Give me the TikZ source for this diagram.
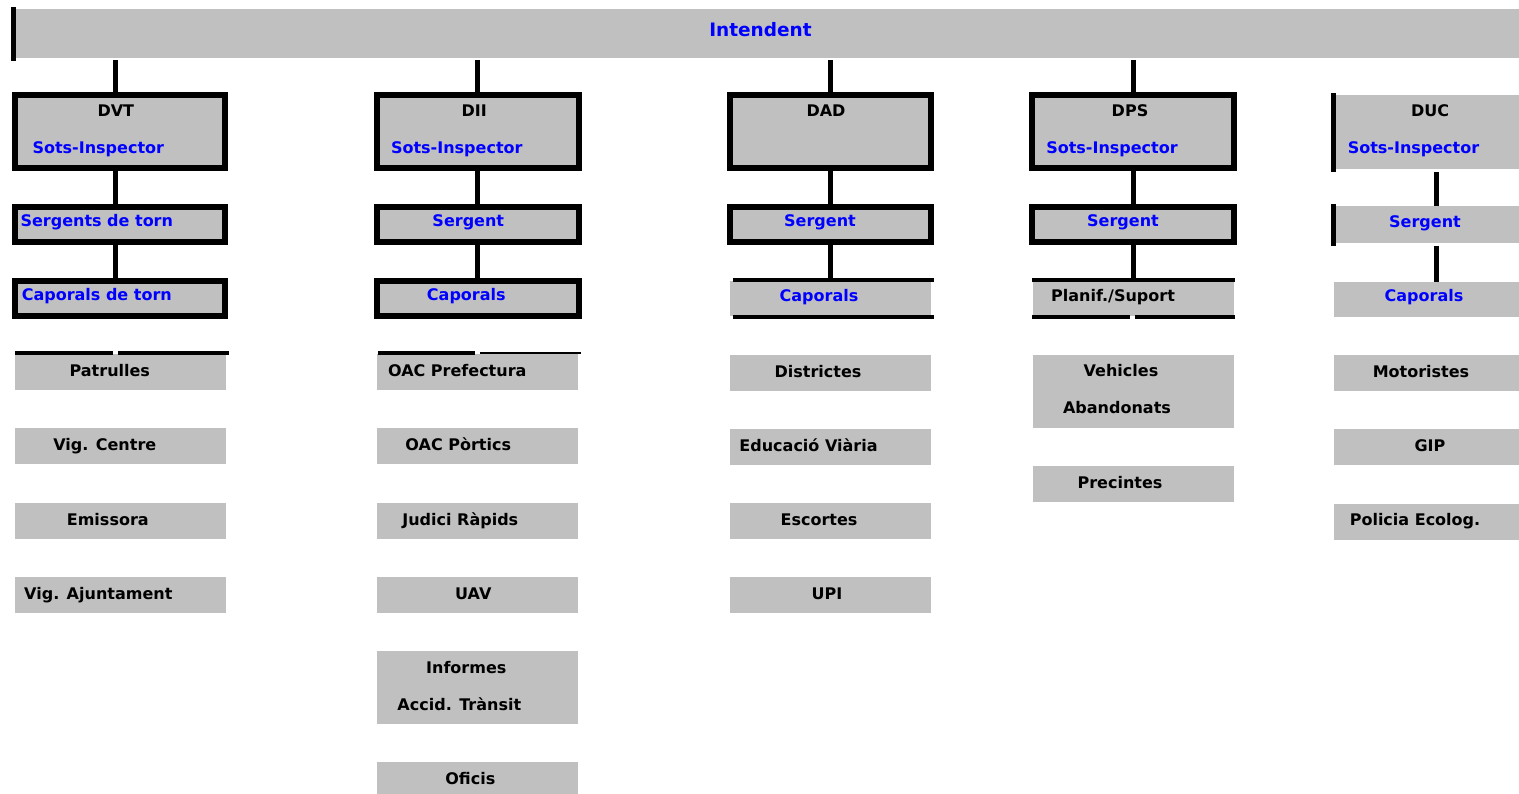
\documentclass[tikz,border=0pt]{standalone}
\usepackage{fontspec}
\setmainfont{DejaVu Sans}
\usetikzlibrary{positioning}
\definecolor{boxgray}{HTML}{C0C0C0}
\definecolor{roleblue}{HTML}{0000FF}
\tikzstyle{chief}=[rectangle,draw=black,line width=6pt,fill=boxgray,
minimum width=201.5pt,minimum height=72.7pt,inner sep=0pt]
\tikzstyle{widechief}=[chief,minimum width=210pt]
\tikzstyle{rank}=[chief,minimum height=35pt]
\tikzstyle{widerank}=[widechief,minimum height=35pt]
\tikzstyle{unit}=[rectangle,fill=boxgray,minimum width=201pt,minimum height=36pt,inner sep=0pt]
\tikzstyle{wideunit}=[unit,minimum width=211pt]
\tikzstyle{narrowunit}=[unit,minimum width=185pt]
\tikzstyle{tallunit}=[unit,minimum height=73pt]
\tikzstyle{link}=[line width=5pt]
\tikzstyle{rule}=[line width=4pt]
\tikzstyle{thinrule}=[line width=2pt]
\tikzstyle{every label}=[text height=11.7pt,text depth=0pt,inner sep=0pt]
\tikzstyle{role}=[text=roleblue]
\tikzstyle{tag}=[yshift=1.5pt]
\tikzstyle{boss text}=[role,font=\fontsize{18.5}{22}\selectfont\bfseries,text height=13.5pt]

\begin{document}
\begin{tikzpicture}[x=1pt,y=-1pt,node distance=37.8pt,font=\fontsize{16}{19}\selectfont\bfseries]
            \useasboundingbox (0,0) rectangle (1519,793);

            % INTENDENT
            \node[unit,minimum width=1503pt,minimum height=48.5pt,label={[boss text,xshift=-7pt,yshift=3.25pt]center:Intendent}] (boss) at (767.5,33.25) {};
            \draw[link] ([xshift=-2.5pt,yshift=2pt]boss.north west) -- ([xshift=-2.5pt,yshift=-3.5pt]boss.south west);

            % DVT PART
            \node[widechief,label={[xshift=-4.5pt,yshift=20.7pt]center:DVT},
                label={[role,xshift=-22pt,yshift=-16.3pt]center:Sots-Inspector}] (dvt) at (120.3,131.7) {};
            \node[widerank,below=33pt of dvt,label={[role,xshift=-23.5pt,yshift=3.5pt]center:Sergents de torn}] (sgt1) {};
            \node[widerank,below=33pt of sgt1,label={[role,xshift=-23.5pt,yshift=3.5pt]center:Caporals de torn}] (cap1) {};
            \node[wideunit,below=35pt of cap1,label={[tag,xshift=-10.5pt]center:Patrulles}] (patr) {};
            \node[wideunit,below=of patr,label={[tag,xshift=-15.5pt]center:Vig. Centre}] (vigc) {};
            \node[wideunit,below=of vigc,label={[tag,xshift=-12.5pt]center:Emissora}] (emis) {};
            \node[wideunit,below=of emis,label={[tag,xshift=-22pt]center:Vig. Ajuntament}] (viga) {};

            \coordinate (c1) at ([xshift=-4.8pt]dvt.north);
            \path[link] (c1) edge[shorten >=2.5pt] (c1 |- boss.south);
            \path[link] ([xshift=-4.8pt]dvt.south) edge ([xshift=-4.8pt]sgt1.north);
            \path[link] ([xshift=-4.8pt]sgt1.south) edge ([xshift=-4.8pt]cap1.north);
            \draw[rule] ([yshift=1pt]patr.north west) -- ([xshift=-7.5pt,yshift=1pt]patr.north);
            \draw[rule] ([xshift=-2.5pt,yshift=1pt]patr.north) -- ([xshift=3pt,yshift=1pt]patr.north east);

            % DII PART
            \node[chief,label={[xshift=-3.5pt,yshift=20.7pt]center:DII},
                label={[role,xshift=-21pt,yshift=-16.3pt]center:Sots-Inspector}] (dii) at (477.8,131.7) {};
            \node[rank,below=33pt of dii,label={[role,xshift=-9.5pt,yshift=3.5pt]center:Sergent}] (sgt2) {};
            \node[rank,below=33pt of sgt2,label={[role,xshift=-11.5pt,yshift=3.5pt]center:Caporals}] (cap2) {};
            \node[unit,below=35pt of cap2,label={[tag,xshift=-20.5pt]center:OAC Prefectura}] (oacpref) {};
            \node[unit,below=of oacpref,label={[tag,xshift=-19.5pt]center:OAC Pòrtics}] (oacport) {};
            \node[unit,below=of oacport,label={[tag,xshift=-17.5pt]center:Judici Ràpids}] (judici) {};
            \node[unit,below=of judici,label={[tag,xshift=-4.5pt]center:UAV}] (uav) {};
            \node[tallunit,below=of uav,label={[xshift=-11.5pt,yshift=19.7pt]center:Informes},
                label={[xshift=-18.5pt,yshift=-17.3pt]center:Accid. Trànsit}] (inform) {};
            \node[unit,below=of inform,label={[tag,xshift=-7.5pt]center:Oficis}] (oficis) {};

            \path[link] (dii.north) edge[shorten >=2.5pt] (dii.north |- boss.south);
            \path[link] (dii) edge (sgt2);
            \path[link] (sgt2) edge (cap2);
            \draw[rule] ([xshift=1pt,yshift=1pt]oacpref.north west) -- ([xshift=-3pt,yshift=1pt]oacpref.north);
            \draw[thinrule] ([xshift=2.5pt,yshift=1pt]oacpref.north) -- ([xshift=2pt,yshift=1pt]oacpref.north east);

            % DAD PART
            \node[chief,label={[xshift=-4.5pt,yshift=20.7pt]center:DAD}] (dad) at (830.5,131.7) {};
            \node[rank,below=33pt of dad,label={[role,xshift=-10.5pt,yshift=3.5pt]center:Sergent}] (sgt3) {};
            \node[unit,minimum height=35pt,below=36pt of sgt3,label={[role,xshift=-11.5pt,yshift=3.5pt]center:Caporals}] (cap3) {};
            \node[unit,below=38pt of cap3,label={[tag,xshift=-12.5pt]center:Districtes}] (distr) {};
            \node[unit,below=of distr,label={[tag,xshift=-22pt]center:Educació Viària}] (educ) {};
            \node[unit,below=of educ,label={[tag,xshift=-11.5pt]center:Escortes}] (escort) {};
            \node[unit,below=of escort,label={[tag,xshift=-3.5pt]center:UPI}] (upi) {};

            \path[link] (dad.north) edge[shorten >=2.5pt] (dad.north |- boss.south);
            \path[link] (dad) edge (sgt3);
            \path[link] (sgt3) edge (cap3);
            \draw[rule] ([xshift=3pt,yshift=1pt]cap3.north west) -- ([xshift=3pt,yshift=1pt]cap3.north east);
            \draw[rule] ([xshift=3pt,yshift=-1pt]cap3.south west) -- ([xshift=3pt,yshift=-1pt]cap3.south east);

            % DPS PART
            \node[chief,label={[xshift=-3pt,yshift=20.7pt]center:DPS},
                label={[role,xshift=-21pt,yshift=-16.3pt]center:Sots-Inspector}] (dps) at (1133,131.7) {};
            \node[rank,below=33pt of dps,label={[role,xshift=-10pt,yshift=3.5pt]center:Sergent}] (sgt4) {};
            \node[unit,minimum height=35pt,below=36pt of sgt4,label={[xshift=-20pt,yshift=3.5pt]center:Planif./Suport}] (plan) {};
            \node[tallunit,below=38pt of plan,label={[xshift=-12pt,yshift=20.5pt]center:Vehicles},
                label={[xshift=-16pt,yshift=-16.5pt]center:Abandonats}] (vehic) {};
            \node[unit,below=of vehic,label={[tag,xshift=-13pt]center:Precintes}] (precint) {};

            \path[link] (dps.north) edge[shorten >=2.5pt] (dps.north |- boss.south);
            \path[link] (dps) edge (sgt4);
            \path[link] (sgt4) edge (plan);
            \draw[rule] ([yshift=1.5pt]plan.north west) -- ([xshift=1pt,yshift=1.5pt]plan.north east);
            \draw[rule] ([yshift=-1pt]plan.south west) -- ([xshift=-3pt,yshift=-1pt]plan.south);
            \draw[rule] ([xshift=2pt,yshift=-1pt]plan.south) -- ([xshift=1pt,yshift=-1pt]plan.south east);

            % DUC PART
            \node[narrowunit,minimum height=74pt,label={[xshift=3.5pt,yshift=21pt]center:DUC},
                label={[role,xshift=-13pt,yshift=-16pt]center:Sots-Inspector}] (duc) at (1426.5,132) {};
            \node[narrowunit,minimum height=37pt,below=37pt of duc,label={[role,xshift=-1.5pt,yshift=3.5pt]center:Sergent}] (sgt5) {};
            \node[narrowunit,minimum height=35pt,below=38pt of sgt5,label={[role,xshift=-2.5pt,yshift=3.5pt]center:Caporals}] (cap5) {};
            \node[narrowunit,below=38pt of cap5,label={[tag,xshift=-5.5pt]center:Motoristes}] (motor) {};
            \node[narrowunit,below=of motor,label={[tag,xshift=3.5pt]center:GIP}] (gip) {};
            \node[narrowunit,below=of gip,label={[tag,xshift=-11.5pt]center:Policia Ecolog.}] (ecolog) {};

            \draw[link] ([xshift=-0.5pt,yshift=2pt]duc.north west) -- ([xshift=-0.5pt,yshift=-3pt]duc.south west);
            \draw[link] ([xshift=-0.5pt,yshift=2pt]sgt5.north west) -- ([xshift=-0.5pt,yshift=-2pt]sgt5.south west);
            \path[link] ([xshift=9.5pt]duc.south) edge[shorten <=3pt] ([xshift=9.5pt]sgt5.north);
            \path[link] ([xshift=9.5pt]sgt5.south) edge[shorten <=2pt] ([xshift=9.5pt]cap5.north);

        \end{tikzpicture}
\end{document}
